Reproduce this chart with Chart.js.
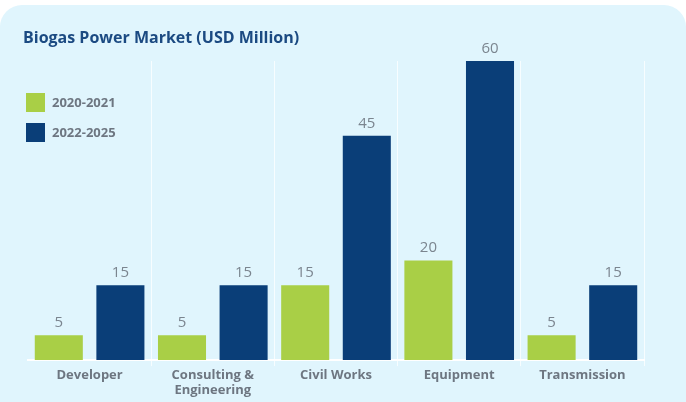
<!DOCTYPE html>
<html>
<head>
<meta charset="utf-8">
<script src="https://cdn.jsdelivr.net/npm/chart.js@4.4.1/dist/chart.umd.min.js"></script>
<style>
  html, body { margin: 0; padding: 0; background: #ffffff; }
  #wrap { position: relative; width: 686px; height: 402px; overflow: hidden; }
  #panel { position: absolute; left: 0; top: 5px; width: 686px; height: 397px;
           background: #e0f5fd; border-radius: 22px 22px 0 0; }
  canvas { position: absolute; left: 0; top: 0; }
</style>
</head>
<body>
<div id="wrap">
  <div id="panel"></div>
  <canvas id="c" width="686" height="402"></canvas>
</div>
<script>
const title = 'Biogas Power Market (USD Million)';
const categories = ['Developer', ['Consulting &', 'Engineering'], 'Civil Works', 'Equipment', 'Transmission'];
const seriesNames = ['2020-2021', '2022-2025'];
const values2020_2021 = [5, 5, 15, 20, 5];
const values2022_2025 = [15, 15, 45, 60, 15];
const colors = ['#a9cf46', '#0a3e78'];

const FONT = "'Open Sans', 'Noto Sans', sans-serif";

const overlay = {
  id: 'overlay',
  afterDatasetsDraw(chart) {
    const ctx = chart.ctx;
    ctx.save();
    // data labels
    ctx.font = '400 15px ' + FONT;
    ctx.fillStyle = '#7b858f';
    ctx.textAlign = 'center';
    ctx.textBaseline = 'alphabetic';
    chart.data.datasets.forEach((ds, di) => {
      const meta = chart.getDatasetMeta(di);
      meta.data.forEach((el, i) => {
        ctx.fillText(String(ds.data[i]), el.x, el.y - 8);
      });
    });
    // title
    ctx.font = '700 16px ' + FONT;
    ctx.fillStyle = '#1b4a82';
    ctx.textAlign = 'left';
    ctx.textBaseline = 'middle';
    ctx.fillText(title, 23, 38);
    // legend
    ctx.font = '700 13px ' + FONT;
    chart.data.datasets.forEach((ds, di) => {
      const y = 93 + di * 30;
      ctx.fillStyle = ds.backgroundColor;
      ctx.fillRect(26, y, 19, 19);
      ctx.fillStyle = '#6d7681';
      ctx.fillText(ds.label, 52, y + 10);
    });
    ctx.restore();
  }
};

new Chart(document.getElementById('c'), {
  type: 'bar',
  data: {
    labels: categories,
    datasets: [
      { label: seriesNames[0], data: values2020_2021, backgroundColor: colors[0] },
      { label: seriesNames[1], data: values2022_2025, backgroundColor: colors[1] }
    ]
  },
  options: {
    responsive: false,
    animation: false,
    devicePixelRatio: 1,
    layout: { padding: { left: 28, right: 42, top: 61, bottom: 2 } },
    plugins: { legend: { display: false }, title: { display: false }, tooltip: { enabled: false } },
    datasets: { bar: { barPercentage: 0.78, categoryPercentage: 1.0 } },
    scales: {
      x: {
        grid: {
          offset: true,
          color: (c) => (c.index === 0 || c.index === categories.length) ? 'rgba(0,0,0,0)' : 'rgba(255,255,255,0.75)',
          lineWidth: 1,
          tickLength: 6
        },
        border: { display: true, color: '#ffffff', width: 2 },
        ticks: {
          color: '#6d7681',
          font: { family: FONT, size: 13, weight: '700', lineHeight: 1.15 },
          padding: 2,
          maxRotation: 0,
          autoSkip: false
        }
      },
      y: { display: false, min: 0, max: 60 }
    }
  },
  plugins: [overlay]
});
</script>
</body>
</html>
